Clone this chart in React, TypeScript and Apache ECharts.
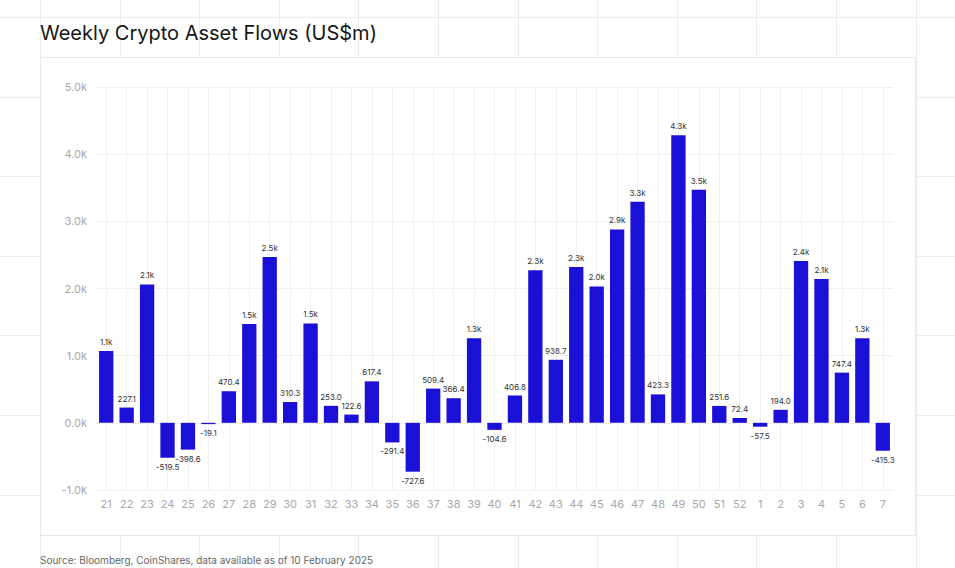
import React, { useEffect, useRef } from "react";
import * as echarts from "echarts";

const weeks: string[] = [
  "21", "22", "23", "24", "25", "26", "27", "28", "29", "30", "31", "32", "33",
  "34", "35", "36", "37", "38", "39", "40", "41", "42", "43", "44", "45", "46",
  "47", "48", "49", "50", "51", "52", "1", "2", "3", "4", "5", "6", "7",
];

const flows: number[] = [
  1070, 227.1, 2060, -519.5, -398.6, -19.1, 470.4, 1470, 2470, 310.3, 1480, 253.0, 122.6,
  617.4, -291.4, -727.6, 509.4, 366.4, 1260, -104.6, 406.8, 2270, 938.7, 2320, 2030, 2880,
  3290, 423.3, 4280, 3470, 251.6, 72.4, -57.5, 194.0, 2410, 2140, 747.4, 1260, -415.3,
];

const yTicks = { min: -1000, max: 5000, interval: 1000 };

const titleText = "Weekly Crypto Asset Flows (US$m)";
const sourceText = "Source: Bloomberg, CoinShares, data available as of 10 February 2025";

function fmt(v: number): string {
  if (Math.abs(v) >= 1000) return (v / 1000).toFixed(1) + "k";
  return v.toFixed(1);
}

export default function App() {
  const ref = useRef<HTMLDivElement>(null);
  useEffect(() => {
    if (!ref.current) return;
    const chart = echarts.init(ref.current, undefined, { renderer: "svg" });
    const W = 955, H = 568;
    const lineStyle = { stroke: "#ececec", lineWidth: 1 };
    const bg: any[] = [];
    // page grid behind the card
    for (let x = 40; x <= W; x += 79.6) {
      bg.push({ type: "line", silent: true, z: -10, shape: { x1: Math.round(x) + 0.5, y1: 0, x2: Math.round(x) + 0.5, y2: H }, style: lineStyle });
    }
    for (let y = 17; y <= H; y += 79.6) {
      bg.push({ type: "line", silent: true, z: -10, shape: { x1: 0, y1: Math.round(y) + 0.5, x2: W, y2: Math.round(y) + 0.5 }, style: lineStyle });
    }
    // card
    bg.push({
      type: "rect", silent: true, z: -9,
      shape: { x: 40.5, y: 57.5, width: 875, height: 478 },
      style: { fill: "#ffffff", stroke: "#e8e8e8", lineWidth: 1 },
    });
    bg.push({
      type: "text", z: 10, left: 40, top: 23,
      style: { text: titleText, font: '400 20px "Inter", "Helvetica", sans-serif', fill: "#161616" },
    });
    bg.push({
      type: "text", z: 10, left: 40, top: 555,
      style: { text: sourceText, font: '400 10px "Inter", sans-serif', fill: "#666" },
    });

    chart.setOption({
      animation: false,
      backgroundColor: "#ffffff",
      graphic: { elements: bg },
      grid: { left: 96, right: 62, top: 87, bottom: 78, containLabel: false },
      xAxis: {
        type: "category",
        data: weeks,
        axisLine: { show: false },
        axisTick: { show: false },
        axisLabel: { color: "#a8a8a8", fontSize: 11, margin: 8, interval: 0, fontFamily: "Inter, sans-serif" },
        splitLine: { show: true, alignWithLabel: true, lineStyle: { color: "#f0f0f0", width: 1 } },
      },
      yAxis: {
        type: "value",
        min: yTicks.min,
        max: yTicks.max,
        interval: yTicks.interval,
        axisLine: { show: false },
        axisTick: { show: false },
        axisLabel: {
          color: "#a8a8a8", fontSize: 11, margin: 9, fontFamily: "Inter, sans-serif",
          formatter: (v: number) => (v / 1000).toFixed(1) + "k",
        },
        splitLine: { show: true, lineStyle: { color: "#efefef", width: 1 } },
      },
      series: [
        {
          type: "bar",
          barCategoryGap: "30%",
          itemStyle: { color: "#1b10d6" },
          data: flows.map((v) => ({
            value: v,
            label: { position: v < 0 ? "bottom" : "top" },
          })),
          label: {
            show: true,
            fontSize: 8,
            color: "#333",
            distance: 5,
            fontFamily: "Inter, sans-serif",
            formatter: (p: any) => fmt(p.value),
          },
        },
      ],
    });
    return () => chart.dispose();
  }, []);
  return <div ref={ref} style={{ position: "fixed", left: 0, top: 0, width: 955, height: 568 }} />;
}
